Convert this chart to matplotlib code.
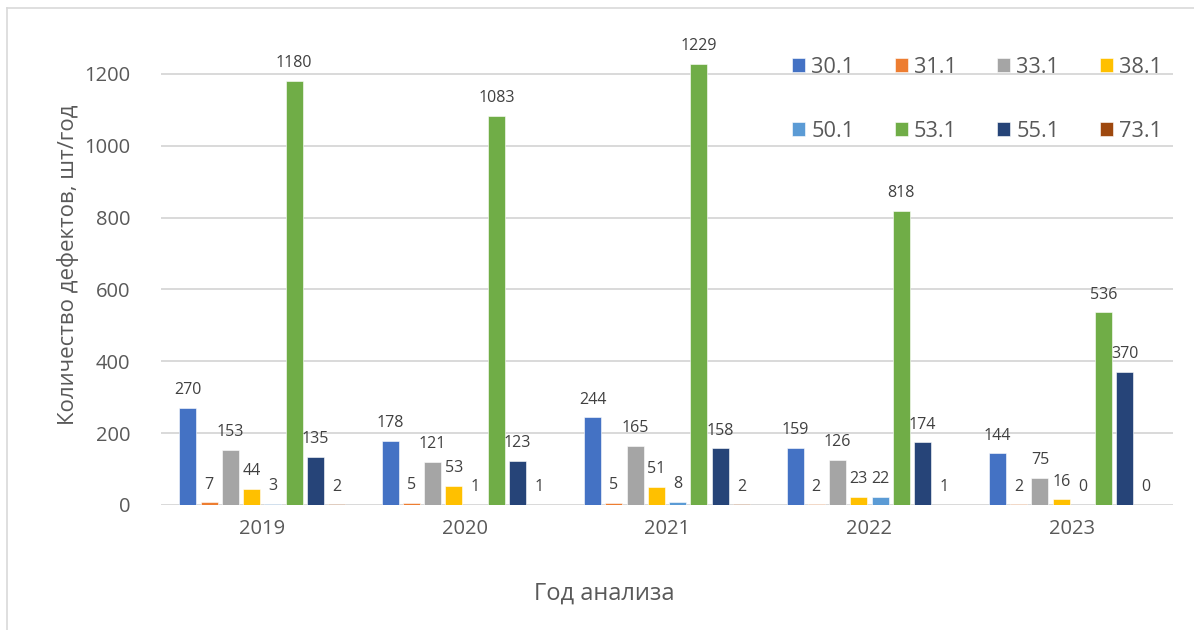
import numpy as np
import matplotlib
matplotlib.use('Agg')
import matplotlib.pyplot as plt
from matplotlib.lines import Line2D

years = ['2019', '2020', '2021', '2022', '2023']
codes = ['30.1', '31.1', '33.1', '38.1', '50.1', '53.1', '55.1', '73.1']

d30 = [270, 178, 244, 159, 144]
d31 = [7, 5, 5, 2, 2]
d33 = [153, 121, 165, 126, 75]
d38 = [44, 53, 51, 23, 16]
d50 = [3, 1, 8, 22, 0]
d53 = [1180, 1083, 1229, 818, 536]
d55 = [135, 123, 158, 174, 370]
d73 = [2, 1, 2, 1, 0]
series = [d30, d31, d33, d38, d50, d53, d55, d73]

colors = ['#4472C4', '#ED7D31', '#A5A5A5', '#FFC000',
          '#5B9BD5', '#70AD47', '#264478', '#9E480E']

plt.rcParams['font.family'] = ['Open Sans', 'DejaVu Sans']

W, H = 1194, 630
fig = plt.figure(figsize=(W / 100, H / 100), dpi=100)
ax = fig.add_axes([161 / W, 125 / H, 1012 / W, 467 / H])

x = np.arange(len(years))
slot = 0.105
width = 0.084
handles = []
for i, (vals, col) in enumerate(zip(series, colors)):
    pos = x + (i - 3.5) * slot
    bars = ax.bar(pos, vals, width, color=col, edgecolor='white', linewidth=0.4,
                  label=codes[i], zorder=3)
    ax.bar_label(bars, padding=7, fontsize=11.5, color='#404040', clip_on=False)
    handles.append(bars)

ax.set_xlim(-0.5, len(years) - 0.5)
ax.set_ylim(0, 1300)
ax.set_yticks(np.arange(0, 1201, 200))
ax.set_xticks(x)
ax.set_xticklabels(years)
ax.tick_params(axis='both', length=0, labelsize=14.5, colors='#595959')
ax.tick_params(axis='y', pad=22)
ax.tick_params(axis='x', pad=10)
ax.grid(axis='y', color='#d9d9d9', linewidth=1.4, zorder=0)
for s in ax.spines.values():
    s.set_visible(False)

ax.set_ylabel('Количество дефектов, шт/год', fontsize=16, color='#595959', va='center')
ax.yaxis.set_label_coords((68 - 161) / 1012, (H - 265 - 125) / 467)
ax.set_xlabel('Год анализа', fontsize=17, color='#595959', va='center')
ax.xaxis.set_label_coords((604 - 161) / 1012, (H - 594 - 125) / 467)

# legend: two rows of four, filled row by row
order = [0, 4, 1, 5, 2, 6, 3, 7]
fig.legend([handles[k] for k in order], [codes[k] for k in order],
           loc='upper left', bbox_to_anchor=(792 / W, 1 - 57 / H),
           ncol=4, frameon=False, fontsize=15.7, labelcolor='#595959',
           handlelength=0.6, handleheight=0.6, handletextpad=0.28,
           columnspacing=1.85, labelspacing=1.95, borderpad=0, borderaxespad=0)

# chart frame (left and top edges)
fig.add_artist(Line2D([7 / W, 7 / W], [0, 1 - 8 / H], color='#d9d9d9', lw=1.2))
fig.add_artist(Line2D([7 / W, 1], [1 - 8 / H, 1 - 8 / H], color='#d9d9d9', lw=1.2))

fig.savefig('out.png', dpi=100)
